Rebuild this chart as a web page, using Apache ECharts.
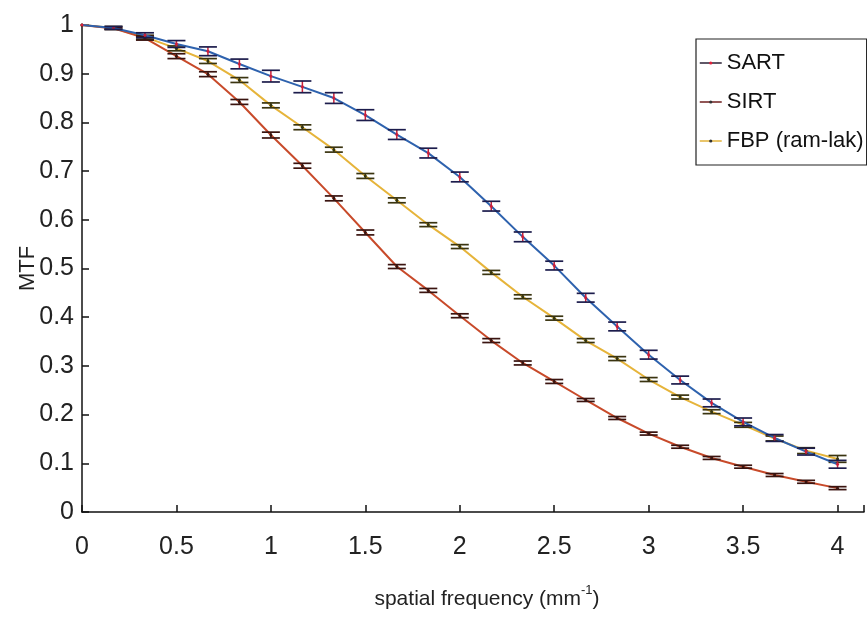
<!DOCTYPE html>
<html>
<head>
<meta charset="utf-8">
<script src="https://cdn.jsdelivr.net/npm/echarts@6/dist/echarts.min.js"></script>
<style>html,body{margin:0;padding:0;background:#fff;}#c{width:867px;height:623px;}</style>
</head>
<body>
<div id="c"></div>
<script>
// spatial frequency samples (mm^-1), k/6 for k = 0..24
const freq = [0, 0.1667, 0.3333, 0.5, 0.6667, 0.8333, 1.0, 1.1667, 1.3333, 1.5, 1.6667, 1.8333, 2.0,
  2.1667, 2.3333, 2.5, 2.6667, 2.8333, 3.0, 3.1667, 3.3333, 3.5, 3.6667, 3.8333, 4.0];
const sartMTF = [1.000, 0.994, 0.979, 0.961, 0.946, 0.920, 0.895, 0.873, 0.850, 0.815, 0.775, 0.737, 0.688,
  0.628, 0.565, 0.506, 0.440, 0.381, 0.323, 0.271, 0.224, 0.185, 0.152, 0.124, 0.098];
const sartErr = [0, 0.003, 0.005, 0.007, 0.009, 0.010, 0.012, 0.012, 0.011, 0.011, 0.010, 0.010, 0.010,
  0.010, 0.010, 0.009, 0.009, 0.009, 0.009, 0.008, 0.008, 0.008, 0.007, 0.007, 0.008];
const sirtMTF = [1.000, 0.993, 0.973, 0.936, 0.899, 0.842, 0.774, 0.711, 0.644, 0.574, 0.504, 0.455, 0.403,
  0.352, 0.306, 0.268, 0.230, 0.193, 0.161, 0.134, 0.111, 0.093, 0.076, 0.062, 0.049];
const sirtErr = [0, 0.002, 0.004, 0.005, 0.005, 0.005, 0.006, 0.005, 0.005, 0.005, 0.004, 0.004, 0.004,
  0.004, 0.004, 0.004, 0.003, 0.003, 0.003, 0.003, 0.003, 0.003, 0.003, 0.003, 0.003];
const fbpMTF = [1.000, 0.994, 0.975, 0.952, 0.926, 0.887, 0.835, 0.790, 0.744, 0.690, 0.640, 0.590, 0.545,
  0.492, 0.442, 0.398, 0.352, 0.315, 0.272, 0.236, 0.206, 0.179, 0.151, 0.126, 0.109];
const fbpErr = [0, 0.003, 0.004, 0.005, 0.005, 0.005, 0.005, 0.005, 0.005, 0.005, 0.005, 0.004, 0.004,
  0.004, 0.004, 0.004, 0.004, 0.004, 0.004, 0.004, 0.004, 0.005, 0.005, 0.006, 0.007];
const seriesNames = ['SART', 'SIRT', 'FBP (ram-lak)'];
const xTicks = [0, 0.5, 1, 1.5, 2, 2.5, 3, 3.5, 4];

const FONT = "'Liberation Sans', Arial, Helvetica, sans-serif";

function lineData(vals) { return freq.map((x, i) => [x, vals[i]]); }
function errData(vals, errs) {
  const out = [];
  freq.forEach((x, i) => { if (errs[i] > 0) out.push([x, vals[i] - errs[i], vals[i] + errs[i]]); });
  return out;
}
function errSeries(name, vals, errs, capColor, barColor, z) {
  return {
    type: 'custom', name: name + ' err', z: z, silent: true,
    data: errData(vals, errs),
    encode: { x: 0, y: [1, 2] },
    renderItem: function (params, api) {
      const x = api.value(0);
      const lo = api.coord([x, api.value(1)]);
      const hi = api.coord([x, api.value(2)]);
      const w = 9;
      return {
        type: 'group',
        children: [
          { type: 'line', shape: { x1: lo[0], y1: lo[1], x2: hi[0], y2: hi[1] }, style: { stroke: barColor, lineWidth: 1.5 } },
          { type: 'line', shape: { x1: lo[0] - w, y1: lo[1], x2: lo[0] + w, y2: lo[1] }, style: { stroke: capColor, lineWidth: 1.7 } },
          { type: 'line', shape: { x1: hi[0] - w, y1: hi[1], x2: hi[0] + w, y2: hi[1] }, style: { stroke: capColor, lineWidth: 1.7 } }
        ]
      };
    }
  };
}

const chart = echarts.init(document.getElementById('c'), null, { renderer: 'canvas' });
chart.setOption({
  animation: false,
  backgroundColor: '#fff',
  grid: { left: 82, right: 0, top: 25, bottom: 111, containLabel: false },
  xAxis: {
    type: 'value', min: 0, max: 4.14, interval: 0.5,
    name: '{a|spatial frequency (mm}{s|-1}{a|)}',
    nameLocation: 'middle', nameGap: 72, nameMoveOverlap: false,
    nameTextStyle: {
      padding: [0, 0, 0, 28],
      rich: {
        a: { fontFamily: FONT, fontSize: 21, color: '#222', verticalAlign: 'bottom', lineHeight: 26 },
        s: { fontFamily: FONT, fontSize: 13, color: '#222', verticalAlign: 'top', lineHeight: 26, padding: [0, 0, 8, 0] }
      }
    },
    axisLine: { onZero: false, lineStyle: { color: '#111', width: 1.5 } },
    axisTick: { inside: true, length: 7, lineStyle: { color: '#111', width: 1.5 } },
    splitLine: { show: false },
    axisLabel: {
      fontFamily: FONT, fontSize: 25, color: '#222', margin: 23,
      formatter: function (v) { return xTicks.some(t => Math.abs(t - v) < 1e-6) ? String(v) : ''; }
    }
  },
  yAxis: {
    type: 'value', min: 0, max: 1, interval: 0.1,
    name: 'MTF', nameLocation: 'middle', nameGap: 43, nameMoveOverlap: false,
    nameTextStyle: { fontFamily: FONT, fontSize: 22, color: '#222' },
    axisLine: { show: true, onZero: false, lineStyle: { color: '#111', width: 1.5 } },
    axisTick: { show: true, inside: true, length: 7, lineStyle: { color: '#111', width: 1.5 } },
    splitLine: { show: false },
    axisLabel: { fontFamily: FONT, fontSize: 25, color: '#222', margin: 8 }
  },
  legend: {
    orient: 'vertical', left: 696, top: 39,
    padding: [11, 3, 11, 3],
    backgroundColor: '#fff',
    borderColor: '#222', borderWidth: 1.2, borderRadius: 0,
    itemWidth: 22, itemHeight: 4, itemGap: 13,
    selectedMode: false,
    textStyle: { fontFamily: FONT, fontSize: 22, color: '#111', lineHeight: 26 },
    data: [
      { name: seriesNames[0], lineStyle: { color: '#2a2035', width: 1.5 }, itemStyle: { color: '#e0203a' } },
      { name: seriesNames[1], lineStyle: { color: '#6e1e1e', width: 1.5 }, itemStyle: { color: '#333' } },
      { name: seriesNames[2], lineStyle: { color: '#e2b23a', width: 1.5 }, itemStyle: { color: '#333' } }
    ]
  },
  series: [
    {
      type: 'line', name: seriesNames[2], data: lineData(fbpMTF), z: 2,
      symbol: 'circle', symbolSize: 3, showSymbol: true,
      lineStyle: { color: '#e6b43a', width: 2 }, itemStyle: { color: '#2a3a10' }
    },
    errSeries(seriesNames[2], fbpMTF, fbpErr, '#3a3410', '#3a3410', 3),
    {
      type: 'line', name: seriesNames[1], data: lineData(sirtMTF), z: 2,
      symbol: 'circle', symbolSize: 3, showSymbol: true,
      lineStyle: { color: '#c84a2a', width: 2 }, itemStyle: { color: '#3a1a10' }
    },
    errSeries(seriesNames[1], sirtMTF, sirtErr, '#3a1410', '#3a1410', 3),
    {
      type: 'line', name: seriesNames[0], data: lineData(sartMTF), z: 4,
      symbol: 'circle', symbolSize: 3, showSymbol: true,
      lineStyle: { color: '#2e62ae', width: 2 }, itemStyle: { color: '#d8203a' }
    },
    errSeries(seriesNames[0], sartMTF, sartErr, '#1c1c4c', '#c8203a', 5)
  ]
});
</script>
</body>
</html>
